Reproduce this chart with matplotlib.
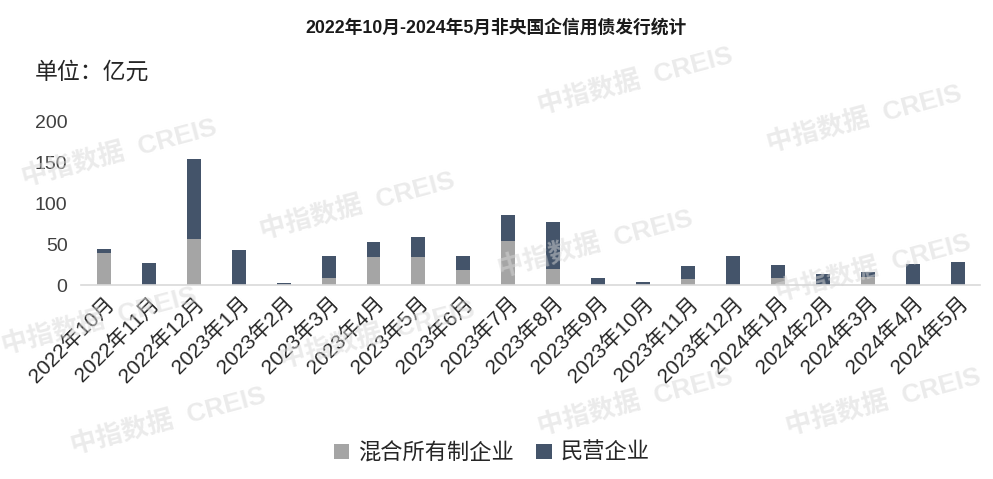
import numpy as np
import matplotlib
matplotlib.use("Agg")
import matplotlib.pyplot as plt

plt.rcParams['font.family'] = ['Liberation Sans', 'Noto Sans CJK SC', 'DejaVu Sans']

# ==== Data ====
months = ["2022年10月", "2022年11月", "2022年12月", "2023年1月", "2023年2月",
          "2023年3月", "2023年4月", "2023年5月", "2023年6月", "2023年7月",
          "2023年8月", "2023年9月", "2023年10月", "2023年11月", "2023年12月",
          "2024年1月", "2024年2月", "2024年3月", "2024年4月", "2024年5月"]
mixed = [39, 0, 56, 0, 0, 9, 34, 34, 18, 54, 19, 0, 0, 7, 0, 9, 0, 10, 0, 0]
private = [5, 27, 98, 43, 3, 27, 19, 25, 18, 31, 58, 9, 4, 16, 36, 15, 13, 6, 26, 28]
yticks = [0, 50, 100, 150, 200]

# ==== Plot ====
fig = plt.figure(figsize=(9.93, 4.79), dpi=100)
ax = fig.add_axes([0.082, 0.405, 0.905, 0.342])

x = np.arange(len(months))
ax.bar(x, mixed, width=0.31, color='#A5A5A5', label='混合所有制企业', zorder=2)
ax.bar(x, private, width=0.31, bottom=mixed, color='#44546A', label='民营企业', zorder=2)

ax.set_xlim(-0.5, len(months) - 0.5)
ax.set_ylim(0, 200)
ax.set_yticks(yticks)
ax.set_xticks(x)
ax.set_xticklabels(months, rotation=45, ha='right', rotation_mode='anchor',
                   fontsize=15, color='#262626')
ax.tick_params(axis='y', labelsize=14, labelcolor='#404040', length=0, pad=10)
ax.tick_params(axis='x', length=0, pad=6)

for side in ['top', 'right', 'left']:
    ax.spines[side].set_visible(False)
ax.spines['bottom'].set_color('#D9D9D9')
ax.spines['bottom'].set_linewidth(1.2)

fig.text(0.5, 0.943, "2022年10月-2024年5月非央国企信用债发行统计", ha='center', va='center',
         fontsize=12.8, fontweight='bold', color='#1a1a1a')
fig.text(0.035, 0.85, "单位：亿元", ha='left', va='center', fontsize=16.5, color='#262626')

fig.legend(loc='center', bbox_to_anchor=(0.495, 0.053), ncol=2, frameon=False,
           fontsize=16, handlelength=0.7, handleheight=0.7, handletextpad=0.4,
           columnspacing=1.0, labelcolor='#262626')

# ==== Watermarks ====
marks = [(0.12, 0.68), (0.36, 0.57), (0.64, 0.83), (0.87, 0.75), (0.60, 0.49),
         (0.10, 0.33), (0.38, 0.30), (0.64, 0.16), (0.89, 0.16), (0.88, 0.44),
         (0.17, 0.12)]
for mx, my in marks:
    fig.text(mx, my, "中指数据  CREIS", ha='center', va='center', fontsize=19,
             fontweight='bold', color='#D8D8D8', alpha=0.5, rotation=15, zorder=0)

fig.savefig("out.png", dpi=100)
